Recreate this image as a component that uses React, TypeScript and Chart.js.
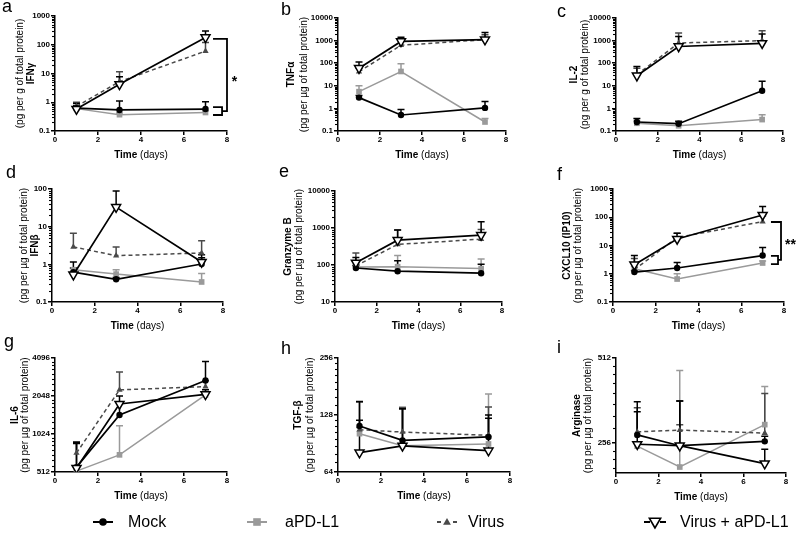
import React, { useEffect, useRef } from 'react';
import { Chart, registerables } from 'chart.js';

Chart.register(...registerables);

const FONT = '"Liberation Sans", Arial, Helvetica, sans-serif';
Chart.defaults.font.family = FONT;

const W = 800;
const H = 535;
const Y_W = 45;
const X_H = 20;

const DAYS = [1, 3, 7];
const X_TICKS = [0, 2, 4, 6, 8];
const LEGEND_LABELS = ['Mock', 'aPD-L1', 'Virus', 'Virus + aPD-L1'];

// a — IFNγ
const IFNG_MOCK = [0.62, 0.54, 0.58];
const IFNG_MOCK_ERR = [0.9, 1.1, 1.05];
const IFNG_APD = [0.6, 0.37, 0.44];
const IFNG_APD_ERR = [0.7, 0.42, 0.5];
const IFNG_VIRUS = [0.72, 5.2, 60];
const IFNG_VIRUS_ERR = [1.0, 11.5, 120];
const IFNG_VA = [0.58, 4.2, 180];
const IFNG_VA_ERR = [0.75, 7.7, 300];
const IFNG_TICKS = [0.1, 1, 10, 100, 1000];

// b — TNFα
const TNFA_MOCK = [3.0, 0.51, 1.05];
const TNFA_MOCK_ERR = [3.7, 0.9, 2.0];
const TNFA_APD = [5.5, 43, 0.25];
const TNFA_APD_ERR = [10, 94, 0.36];
const TNFA_VIRUS = [42, 620, 1100];
const TNFA_VIRUS_ERR = [60, 1200, 1800];
const TNFA_VA = [60, 920, 1100];
const TNFA_VA_ERR = [112, 1400, 2300];
const TNFA_TICKS = [0.1, 1, 10, 100, 1000, 10000];

// c — IL-2
const IL2_MOCK = [0.25, 0.21, 6.0];
const IL2_MOCK_ERR = [0.36, 0.27, 16];
const IL2_APD = [0.22, 0.17, 0.32];
const IL2_APD_ERR = [0.28, 0.2, 0.52];
const IL2_VIRUS = [31, 780, 1000];
const IL2_VIRUS_ERR = [60, 2150, 2750];
const IL2_VA = [28, 550, 760];
const IL2_VA_ERR = [72, 1500, 1950];
const IL2_TICKS = [0.1, 1, 10, 100, 1000, 10000];

// d — IFNβ
const IFNB_MOCK = [0.62, 0.4, 1.02];
const IFNB_MOCK_ERR = [1.15, 0.45, 1.5];
const IFNB_APD = [0.72, 0.55, 0.34];
const IFNB_APD_ERR = [0.8, 0.72, 0.57];
const IFNB_VIRUS = [2.9, 1.7, 2.0];
const IFNB_VIRUS_ERR = [6.7, 2.9, 4.2];
const IFNB_VA = [0.53, 33, 1.15];
const IFNB_VA_ERR = [0.8, 88, 1.8];
const IFNB_TICKS = [0.1, 1, 10, 100];

// e — Granzyme B
const GZMB_MOCK = [83, 68, 60];
const GZMB_MOCK_ERR = [95, 130, 105];
const GZMB_APD = [88, 90, 80];
const GZMB_APD_ERR = [100, 180, 145];
const GZMB_VIRUS = [95, 360, 500];
const GZMB_VIRUS_ERR = [210, 880, 910];
const GZMB_VA = [115, 470, 640];
const GZMB_VA_ERR = [160, 880, 1470];
const GZMB_TICKS = [10, 100, 1000, 10000];

// f — CXCL10 (IP10)
const CXCL10_MOCK = [1.15, 1.6, 4.4];
const CXCL10_MOCK_ERR = [1.3, 2.5, 8.5];
const CXCL10_APD = [1.5, 0.65, 2.4];
const CXCL10_APD_ERR = [1.8, 1.0, 2.8];
const CXCL10_VIRUS = [1.4, 19, 70];
const CXCL10_VIRUS_ERR = [3.5, 27, 110];
const CXCL10_VA = [2.1, 17, 120];
const CXCL10_VA_ERR = [4.4, 27, 240];
const CXCL10_TICKS = [0.1, 1, 10, 100, 1000];

// g — IL-6
const IL6_MOCK = [560, 1450, 2720];
const IL6_MOCK_ERR = [880, 1800, 3850];
const IL6_APD = [520, 700, 2090];
const IL6_APD_ERR = [560, 1190, 2150];
const IL6_VIRUS = [724, 2290, 2430];
const IL6_VIRUS_ERR = [885, 3170, 2700];
const IL6_VA = [550, 1770, 2110];
const IL6_VA_ERR = [860, 2050, 2300];
const IL6_TICKS = [512, 1024, 2048, 4096];

// h — TGF-β
const TGFB_MOCK = [112, 94, 98];
const TGFB_MOCK_ERR = [151, 138, 128];
const TGFB_APD = [102, 88, 90];
const TGFB_APD_ERR = [110, 141, 165];
const TGFB_VIRUS = [107, 104, 100];
const TGFB_VIRUS_ERR = [150, 140, 141];
const TGFB_VA = [81, 88, 83];
const TGFB_VA_ERR = [120, 138, 123];
const TGFB_TICKS = [64, 128, 256];

// i — Arginase
const ARG_MOCK = [273, 250, 259];
const ARG_MOCK_ERR = [358, 360, 270];
const ARG_APD = [249, 210, 297];
const ARG_APD_ERR = [255, 462, 406];
const ARG_VIRUS = [280, 284, 277];
const ARG_VIRUS_ERR = [341, 297, 383];
const ARG_VA = [253, 250, 216];
const ARG_VA_ERR = [330, 360, 243];
const ARG_TICKS = [256, 512];

const UNIT_G = '(pg per g of total protein)';
const UNIT_UG = '(pg per µg of total protein)';

const COL_MOCK = '#000000';
const COL_APD = '#9a9a9a';
const COL_VIRUS = '#4a4a4a';
const COL_VA = '#000000';

type Panel = any;

const PANELS: Panel[] = [
  {
    letter: 'a', lp: [2, 12], name: 'IFNγ', unit: UNIT_G, nameX: 31, unitX: 20,
    box: [55, 16, 227, 131], yMin: 0.1, yMax: 1000, ticks: IFNG_TICKS, base: 10,
    s: [IFNG_MOCK, IFNG_MOCK_ERR, IFNG_APD, IFNG_APD_ERR, IFNG_VIRUS, IFNG_VIRUS_ERR, IFNG_VA, IFNG_VA_ERR],
    bracket: { top: 160, x0: 7.35, x1: 8.0, mid: 0.49, lowX: 7.77, lowTop: 0.68, lowBot: 0.36, star: '*', sx: 8.35, sy: 6.5 },
  },
  {
    letter: 'b', lp: [281, 15], name: 'TNFα', unit: UNIT_UG, nameX: 291, unitX: 304,
    box: [338, 18, 506, 131], yMin: 0.1, yMax: 10000, ticks: TNFA_TICKS, base: 10,
    s: [TNFA_MOCK, TNFA_MOCK_ERR, TNFA_APD, TNFA_APD_ERR, TNFA_VIRUS, TNFA_VIRUS_ERR, TNFA_VA, TNFA_VA_ERR],
  },
  {
    letter: 'c', lp: [557, 17], name: 'IL-2', unit: UNIT_G, nameX: 574, unitX: 585,
    box: [616, 18, 783, 131], yMin: 0.1, yMax: 10000, ticks: IL2_TICKS, base: 10,
    s: [IL2_MOCK, IL2_MOCK_ERR, IL2_APD, IL2_APD_ERR, IL2_VIRUS, IL2_VIRUS_ERR, IL2_VA, IL2_VA_ERR],
  },
  {
    letter: 'd', lp: [6, 178], name: 'IFNβ', unit: UNIT_UG, nameX: 35, unitX: 24,
    box: [52, 189, 223, 302], yMin: 0.1, yMax: 100, ticks: IFNB_TICKS, base: 10,
    s: [IFNB_MOCK, IFNB_MOCK_ERR, IFNB_APD, IFNB_APD_ERR, IFNB_VIRUS, IFNB_VIRUS_ERR, IFNB_VA, IFNB_VA_ERR],
  },
  {
    letter: 'e', lp: [279, 177], name: 'Granzyme B', unit: UNIT_UG, nameX: 288, unitX: 299,
    box: [335, 191, 502, 302], yMin: 10, yMax: 10000, ticks: GZMB_TICKS, base: 10,
    s: [GZMB_MOCK, GZMB_MOCK_ERR, GZMB_APD, GZMB_APD_ERR, GZMB_VIRUS, GZMB_VIRUS_ERR, GZMB_VA, GZMB_VA_ERR],
  },
  {
    letter: 'f', lp: [557, 180], name: 'CXCL10 (IP10)', unit: UNIT_UG, nameX: 567, unitX: 578,
    box: [613, 189, 784, 302], yMin: 0.1, yMax: 1000, ticks: CXCL10_TICKS, base: 10,
    s: [CXCL10_MOCK, CXCL10_MOCK_ERR, CXCL10_APD, CXCL10_APD_ERR, CXCL10_VIRUS, CXCL10_VIRUS_ERR, CXCL10_VA, CXCL10_VA_ERR],
    bracket: { top: 68, x0: 7.39, x1: 7.86, mid: 3.1, lowX: 7.72, lowTop: 4.3, lowBot: 2.2, star: '**', sx: 8.3, sy: 13 },
  },
  {
    letter: 'g', lp: [4, 347], name: 'IL-6', unit: UNIT_UG, nameX: 15, unitX: 25,
    box: [55, 358, 227, 472], yMin: 512, yMax: 4096, ticks: IL6_TICKS, base: 2,
    s: [IL6_MOCK, IL6_MOCK_ERR, IL6_APD, IL6_APD_ERR, IL6_VIRUS, IL6_VIRUS_ERR, IL6_VA, IL6_VA_ERR],
  },
  {
    letter: 'h', lp: [281, 354], name: 'TGF-β', unit: UNIT_UG, nameX: 298, unitX: 310,
    box: [338, 358, 510, 472], yMin: 64, yMax: 256, ticks: TGFB_TICKS, base: 2,
    s: [TGFB_MOCK, TGFB_MOCK_ERR, TGFB_APD, TGFB_APD_ERR, TGFB_VIRUS, TGFB_VIRUS_ERR, TGFB_VA, TGFB_VA_ERR],
  },
  {
    letter: 'i', lp: [557, 353], name: 'Arginase', unit: UNIT_UG, nameX: 577, unitX: 588,
    box: [616, 358, 786, 473], yMin: 200, yMax: 512, ticks: ARG_TICKS, base: 2,
    s: [ARG_MOCK, ARG_MOCK_ERR, ARG_APD, ARG_APD_ERR, ARG_VIRUS, ARG_VIRUS_ERR, ARG_VA, ARG_VA_ERR],
  },
];

function minorTicks(p: Panel): number[] {
  const out: number[] = [];
  const t = p.ticks;
  if (p.base === 10) {
    for (let i = 0; i < t.length - 1; i++) for (let k = 2; k <= 9; k++) out.push(t[i] * k);
  } else {
    for (let i = 0; i < t.length - 1; i++) for (let k = 1; k <= 7; k++) out.push(t[i] + (k * t[i]) / 8);
    const half = t[0] / 16;
    for (let k = 1; k <= 7; k++) {
      const v = t[0] - k * half;
      if (v > p.yMin) out.push(v);
    }
  }
  return out;
}

function drawTri(ctx: CanvasRenderingContext2D, x: number, y: number, r: number, down: boolean) {
  const s = down ? -1 : 1;
  ctx.beginPath();
  ctx.moveTo(x, y - s * r);
  ctx.lineTo(x - r * 0.866, y + s * r * 0.5);
  ctx.lineTo(x + r * 0.866, y + s * r * 0.5);
  ctx.closePath();
}

const errorBarPlugin = {
  id: 'errorBars',
  beforeDatasetsDraw(chart: any) {
    const ctx = chart.ctx;
    const xs = chart.scales.x;
    const ys = chart.scales.y;
    const dsets = chart.data.datasets;
    for (let d = dsets.length - 1; d >= 0; d--) {
      const ds = dsets[d];
      if (!ds.errUp) continue;
      ctx.save();
      ctx.strokeStyle = ds.borderColor;
      ctx.lineWidth = 1.5;
      ctx.setLineDash([]);
      ds.data.forEach((p: any, i: number) => {
        const x = xs.getPixelForValue(p.x);
        const y0 = ys.getPixelForValue(p.y);
        const y1 = ys.getPixelForValue(ds.errUp[i]);
        ctx.beginPath();
        ctx.moveTo(x, y0);
        ctx.lineTo(x, y1);
        ctx.moveTo(x - 3.5, y1);
        ctx.lineTo(x + 3.5, y1);
        ctx.stroke();
      });
      ctx.restore();
    }
  },
};

function drawRot(ctx: CanvasRenderingContext2D, text: string, x: number, y: number, font: string) {
  ctx.save();
  ctx.translate(x, y);
  ctx.rotate(-Math.PI / 2);
  ctx.font = font;
  ctx.textAlign = 'center';
  ctx.textBaseline = 'middle';
  ctx.fillText(text, 0, 0);
  ctx.restore();
}

function drawLegend(ctx: CanvasRenderingContext2D) {
  const pos = [[103, 128], [257, 285], [447, 468], [655, 680]];
  const y = 522;
  ctx.save();
  ctx.font = `16px ${FONT}`;
  ctx.textAlign = 'left';
  ctx.textBaseline = 'middle';
  LEGEND_LABELS.forEach((label, i) => {
    const [cx, tx] = pos[i];
    ctx.setLineDash([]);
    if (i === 0) {
      ctx.strokeStyle = COL_MOCK; ctx.lineWidth = 2;
      ctx.beginPath(); ctx.moveTo(cx - 10, y); ctx.lineTo(cx + 10, y); ctx.stroke();
      ctx.fillStyle = COL_MOCK; ctx.beginPath(); ctx.arc(cx, y, 3.8, 0, Math.PI * 2); ctx.fill();
    } else if (i === 1) {
      ctx.strokeStyle = COL_APD; ctx.lineWidth = 2;
      ctx.beginPath(); ctx.moveTo(cx - 10, y); ctx.lineTo(cx + 10, y); ctx.stroke();
      ctx.fillStyle = COL_APD; ctx.fillRect(cx - 3.8, y - 3.8, 7.6, 7.6);
    } else if (i === 2) {
      ctx.strokeStyle = COL_VIRUS; ctx.lineWidth = 2;
      ctx.beginPath(); ctx.moveTo(cx - 10, y); ctx.lineTo(cx - 6, y); ctx.moveTo(cx + 6, y); ctx.lineTo(cx + 10, y); ctx.stroke();
      ctx.fillStyle = COL_VIRUS; drawTri(ctx, cx, y + 0.5, 4.5, false); ctx.fill();
    } else {
      ctx.strokeStyle = COL_VA; ctx.lineWidth = 2;
      ctx.beginPath(); ctx.moveTo(cx - 11, y); ctx.lineTo(cx - 5, y); ctx.moveTo(cx + 5, y); ctx.lineTo(cx + 11, y); ctx.stroke();
      ctx.fillStyle = '#fff'; ctx.lineWidth = 1.6;
      drawTri(ctx, cx, y - 0.5, 6.5, true); ctx.fill(); ctx.stroke();
    }
    ctx.fillStyle = '#000';
    ctx.fillText(label, tx, y + 1);
  });
  ctx.restore();
}

function decorPlugin(p: Panel, withLegend: boolean) {
  return {
    id: 'decor',
    afterDraw(chart: any) {
      const ctx: CanvasRenderingContext2D = chart.ctx;
      const a = chart.chartArea;
      const xs = chart.scales.x;
      const ys = chart.scales.y;
      ctx.save();
      // minor ticks
      ctx.strokeStyle = '#000';
      ctx.lineWidth = 1.1;
      minorTicks(p).forEach((v) => {
        const y = Math.round(ys.getPixelForValue(v)) + 0.5;
        ctx.beginPath();
        ctx.moveTo(a.left, y);
        ctx.lineTo(a.left - 3, y);
        ctx.stroke();
      });
      // panel letter
      ctx.fillStyle = '#000';
      ctx.font = `18px ${FONT}`;
      ctx.textAlign = 'left';
      ctx.textBaseline = 'alphabetic';
      ctx.fillText(p.letter, p.lp[0], p.lp[1]);
      // y titles
      const cy = (a.top + a.bottom) / 2;
      drawRot(ctx, p.name, p.nameX, cy, `bold 10px ${FONT}`);
      drawRot(ctx, p.unit, p.unitX, cy, `10px ${FONT}`);
      // x title
      const tb = 'Time';
      const tr = ' (days)';
      ctx.font = `bold 10px ${FONT}`;
      const w1 = ctx.measureText(tb).width;
      ctx.font = `10px ${FONT}`;
      const w2 = ctx.measureText(tr).width;
      const cx = (a.left + a.right) / 2;
      const x0 = cx - (w1 + w2) / 2;
      const ty = a.bottom + 24;
      ctx.textBaseline = 'middle';
      ctx.font = `bold 10px ${FONT}`;
      ctx.fillText(tb, x0, ty);
      ctx.font = `10px ${FONT}`;
      ctx.fillText(tr, x0 + w1, ty);
      // significance bracket
      if (p.bracket) {
        const b = p.bracket;
        const X = (v: number) => xs.getPixelForValue(v);
        const Y = (v: number) => ys.getPixelForValue(v);
        ctx.strokeStyle = '#000';
        ctx.lineWidth = 1.8;
        ctx.beginPath();
        ctx.moveTo(X(b.x0), Y(b.top));
        ctx.lineTo(X(b.x1), Y(b.top));
        ctx.lineTo(X(b.x1), Y(b.mid));
        ctx.lineTo(X(b.lowX), Y(b.mid));
        ctx.moveTo(X(b.x0), Y(b.lowTop));
        ctx.lineTo(X(b.lowX), Y(b.lowTop));
        ctx.lineTo(X(b.lowX), Y(b.lowBot));
        ctx.lineTo(X(b.x0), Y(b.lowBot));
        ctx.stroke();
        ctx.font = `bold 14px ${FONT}`;
        ctx.textAlign = 'center';
        ctx.textBaseline = 'middle';
        ctx.fillText(b.star, X(b.sx), Y(b.sy) + 3);
      }
      ctx.restore();
      if (withLegend) drawLegend(ctx);
    },
  };
}

function buildConfig(p: Panel, withLegend: boolean): any {
  const [mock, mockErr, apd, apdErr, virus, virusErr, va, vaErr] = p.s;
  const pts = (arr: number[]) => DAYS.map((x, i) => ({ x, y: arr[i] }));
  const datasets = [
    {
      label: LEGEND_LABELS[3], data: pts(va), errUp: vaErr,
      borderColor: COL_VA, backgroundColor: '#fff', borderWidth: 1.7,
      pointStyle: 'triangle', pointRotation: 180, pointRadius: 5.2,
      pointBorderWidth: 1.5, pointBackgroundColor: '#fff', pointBorderColor: COL_VA,
    },
    {
      label: LEGEND_LABELS[0], data: pts(mock), errUp: mockErr,
      borderColor: COL_MOCK, backgroundColor: COL_MOCK, borderWidth: 1.7,
      pointStyle: 'circle', pointRadius: 3.2, pointBorderWidth: 0,
      pointBackgroundColor: COL_MOCK,
    },
    {
      label: LEGEND_LABELS[2], data: pts(virus), errUp: virusErr,
      borderColor: COL_VIRUS, backgroundColor: COL_VIRUS, borderWidth: 1.5, borderDash: [4, 3],
      pointStyle: 'triangle', pointRadius: 3.6, pointBorderWidth: 0,
      pointBackgroundColor: COL_VIRUS,
    },
    {
      label: LEGEND_LABELS[1], data: pts(apd), errUp: apdErr,
      borderColor: COL_APD, backgroundColor: COL_APD, borderWidth: 1.5,
      pointStyle: 'rect', pointRadius: 4.0, pointBorderWidth: 0,
      pointBackgroundColor: COL_APD,
    },
  ];
  const [l, t, r, b] = p.box;
  return {
    type: 'line',
    data: { datasets },
    options: {
      animation: false,
      responsive: false,
      events: [],
      layout: { padding: { left: l - Y_W, top: t, right: W - r, bottom: H - b - X_H } },
      elements: { line: { tension: 0 } },
      plugins: { legend: { display: false }, tooltip: { enabled: false }, title: { display: false } },
      scales: {
        x: {
          type: 'linear', min: 0, max: 8,
          afterBuildTicks: (s: any) => { s.ticks = X_TICKS.map((v) => ({ value: v })); },
          afterFit: (s: any) => { s.height = X_H; },
          ticks: { font: { size: 8, weight: 'bold' }, color: '#000', padding: 0, maxRotation: 0, autoSkip: false, callback: (v: any) => String(v) },
          grid: { display: true, drawOnChartArea: false, drawTicks: true, tickLength: 4, color: '#000', lineWidth: 1.5 },
          border: { display: true, color: '#000', width: 1.5 },
        },
        y: {
          type: 'logarithmic', min: p.yMin, max: p.yMax,
          afterBuildTicks: (s: any) => { s.ticks = p.ticks.map((v: number) => ({ value: v })); },
          afterFit: (s: any) => { s.width = Y_W; },
          ticks: { font: { size: 8, weight: 'bold' }, color: '#000', padding: 1, autoSkip: false, callback: (v: any) => String(v) },
          grid: { display: true, drawOnChartArea: false, drawTicks: true, tickLength: 4, color: '#000', lineWidth: 1.5 },
          border: { display: true, color: '#000', width: 1.5 },
        },
      },
    },
    plugins: [errorBarPlugin, decorPlugin(p, withLegend)],
  };
}

function PanelChart({ p, withLegend }: { p: Panel; withLegend: boolean }) {
  const ref = useRef<HTMLCanvasElement | null>(null);
  useEffect(() => {
    if (!ref.current) return;
    const chart = new Chart(ref.current, buildConfig(p, withLegend));
    return () => chart.destroy();
  }, [p, withLegend]);
  return (
    <canvas
      ref={ref}
      width={W}
      height={H}
      style={{ position: 'absolute', left: 0, top: 0, width: W, height: H }}
    />
  );
}

export default function App() {
  return (
    <div style={{ position: 'absolute', left: 0, top: 0, width: W, height: H, background: '#fff', overflow: 'hidden' }}>
      {PANELS.map((p, i) => (
        <PanelChart key={p.letter} p={p} withLegend={i === 0} />
      ))}
    </div>
  );
}
